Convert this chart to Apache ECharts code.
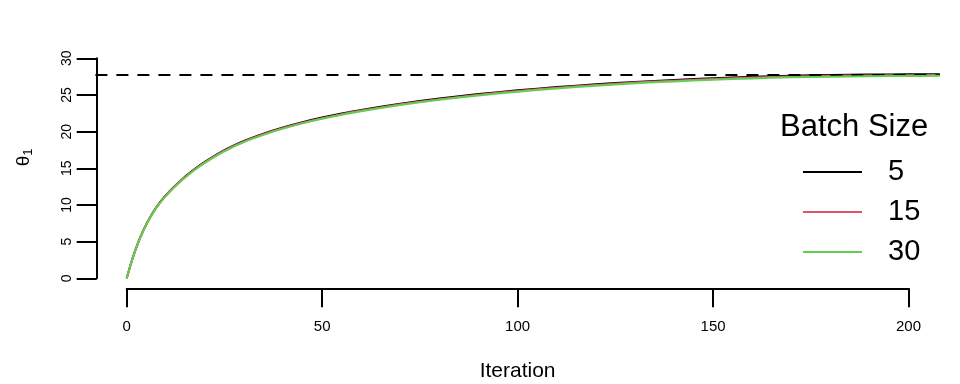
<!DOCTYPE html>
<html>
<head>
<meta charset="utf-8">
<script src="https://cdn.jsdelivr.net/npm/echarts@6/dist/echarts.min.js"></script>
<style>html,body{margin:0;padding:0;background:#fff}#c{width:960px;height:384px}</style>
</head>
<body>
<div id="c"></div>
<script>
var iterations = [0,1,2,3,4,5,6,7,8,9,10,12,14,16,18,20,23,26,30,35,40,45,50,55,60,70,80,90,100,110,120,130,140,150,160,170,180,190,200,208];
var batch5  = [0,1.85,3.50,4.96,6.23,7.34,8.33,9.21,9.98,10.68,11.31,12.43,13.42,14.32,15.14,15.88,16.88,17.75,18.73,19.73,20.58,21.30,21.92,22.47,22.96,23.81,24.52,25.12,25.63,26.07,26.45,26.78,27.05,27.28,27.47,27.62,27.72,27.78,27.81,27.83];
var batch15 = [0,1.84,3.48,4.94,6.20,7.31,8.29,9.17,9.94,10.63,11.26,12.37,13.36,14.25,15.07,15.81,16.80,17.67,18.65,19.65,20.49,21.21,21.83,22.38,22.87,23.72,24.43,25.03,25.54,25.98,26.36,26.69,26.95,27.18,27.37,27.51,27.61,27.67,27.70,27.72];
var batch30 = [0,1.83,3.47,4.92,6.18,7.28,8.26,9.13,9.90,10.59,11.21,12.32,13.30,14.19,15.00,15.73,16.73,17.59,18.57,19.56,20.41,21.13,21.75,22.30,22.79,23.63,24.34,24.94,25.45,25.88,26.26,26.59,26.85,27.08,27.26,27.40,27.50,27.56,27.59,27.61];
var seriesNames = ['5','15','30'];
var trueValue = 27.82;
var xTicks = [0,50,100,150,200];
var yTicks = [0,5,10,15,20,25,30];

var FONT = '"Liberation Sans", Arial, sans-serif';
var colors = ['#000000','#DF536B','#61D04F'];
function pairs(ys){ return iterations.map(function(x,i){ return [x, ys[i]]; }); }
var allData = [batch5, batch15, batch30];

var chart = echarts.init(document.getElementById('c'), null, {renderer:'canvas'});
var series = allData.map(function(d,i){
  var s = {
    name: seriesNames[i], type:'line', xAxisIndex:0, yAxisIndex:0,
    data: pairs(d), showSymbol:false, smooth:0.2, clip:true,
    lineStyle:{color:colors[i], width:2}, itemStyle:{color:colors[i]},
    animation:false, silent:true, z: 3+i
  };
  if(i===0){
    s.markLine = {silent:true, symbol:['none','none'], label:{show:false},
      lineStyle:{color:'#000', width:2, type:[12,9]},
      data:[{yAxis: trueValue}]};
  }
  return s;
});

chart.setOption({
  animation:false,
  backgroundColor:'#fff',
  title:{text:'Batch Size', left:780, top:112, padding:0,
    textStyle:{fontFamily:FONT, fontSize:31, fontWeight:'normal', color:'#000'}},
  legend:{orient:'vertical', left:803, top:157, padding:0,
    itemWidth:59, itemHeight:2, itemGap:10, icon:'rect',
    data: seriesNames,
    textStyle:{fontFamily:FONT, fontSize:29, color:'#000', lineHeight:30, padding:[0,0,0,21]}},
  grid:[
    {left:95.4, right:20.2, top:58.3, bottom:95.7, outerBoundsMode:'none', containLabel:false},
    {left:96.7, right:20.2, top:58.3, bottom:105.7, outerBoundsMode:'none', containLabel:false},
    {left:126.7, right:51.5, top:58.3, bottom:95.7, outerBoundsMode:'none', containLabel:false}
  ],
  xAxis:[
    {gridIndex:0, type:'value', min:-8, max:208, show:false},
    {gridIndex:1, type:'value', min:0, max:1, show:false},
    {gridIndex:2, type:'value', min:0, max:200, interval:50,
      axisLine:{show:true, onZero:false, lineStyle:{color:'#000', width:2}},
      axisTick:{show:true, length:19, lineStyle:{color:'#000', width:2}},
      splitLine:{show:false},
      axisLabel:{fontFamily:FONT, fontSize:15, color:'#000', margin:31,
        customValues: xTicks},
      name:'Iteration', nameLocation:'middle', nameGap:72,
      nameTextStyle:{fontFamily:FONT, fontSize:21, color:'#000'}}
  ],
  yAxis:[
    {gridIndex:0, type:'value', min:-1.364, max:30, show:false},
    {gridIndex:1, type:'value', min:0, max:30, interval:5,
      axisLine:{show:true, onZero:false, lineStyle:{color:'#000', width:2}},
      axisTick:{show:true, length:20, lineStyle:{color:'#000', width:2}},
      splitLine:{show:false},
      axisLabel:{fontFamily:FONT, fontSize:14, color:'#000', rotate:90, margin:23,
        customValues: yTicks},
      name:'{t|θ}{s|1}', nameLocation:'middle', nameGap:62, nameRotate:90,
      nameTextStyle:{fontFamily:FONT, color:'#000', padding:[0,0,0,22],
        rich:{t:{fontFamily:FONT, fontSize:19, color:'#000'},
              s:{fontFamily:FONT, fontSize:13, color:'#000', padding:[8,0,0,0]}}}},
    {gridIndex:2, type:'value', min:0, max:1, show:false}
  ],
  series: series
});
</script>
</body>
</html>
